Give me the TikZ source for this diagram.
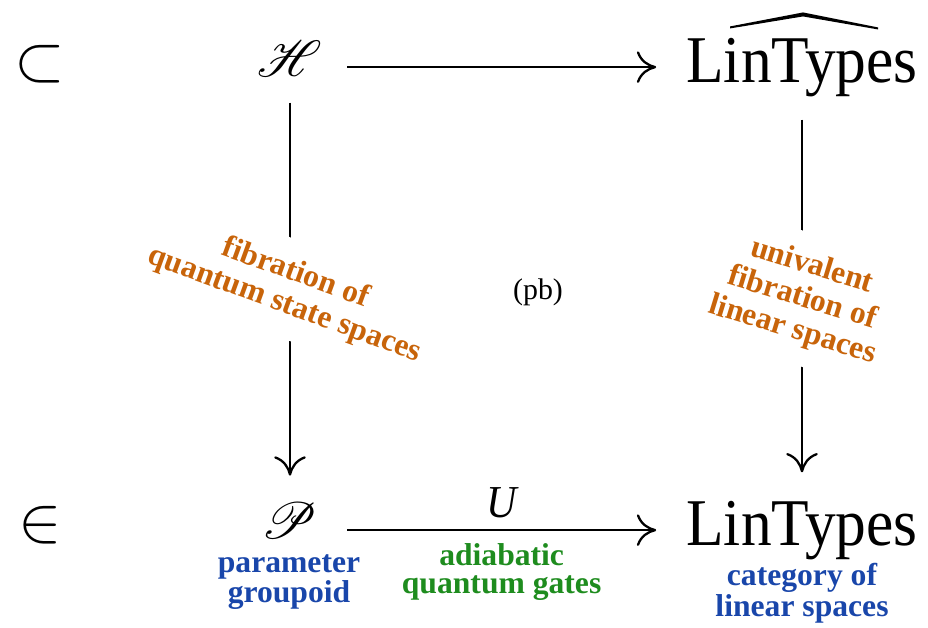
\RequirePackage{fix-cm}
\documentclass[tikz,border=0pt]{standalone}
\usepackage{amsmath}
\usepackage{mathrsfs}
\DeclareFontFamily{U}{rsfs}{\skewchar\font127 }
\DeclareFontShape{U}{rsfs}{m}{n}{<-6> rsfs5 <6-8> rsfs7 <8-> rsfs10}{}
\usepackage{fontspec}
\setmainfont{Liberation Serif}
\newfontfamily\narrowfont{Liberation Serif}[FakeStretch=0.92]
\usepackage{xcolor}
\usetikzlibrary{arrows.meta,positioning,calc}
\definecolor{fibreOrange}{RGB}{200,100,10}
\definecolor{gateGreen}{RGB}{30,140,30}
\definecolor{spaceBlue}{RGB}{25,70,170}

\begin{document}
\begin{tikzpicture}[x=0.2mm, y=-0.2mm,
    obj/.style={inner sep=0pt, font=\fontsize{37}{40}\selectfont},
    scr/.style={inner sep=0pt, font=\fontsize{29}{32}\selectfont},
    lin/.style={inner sep=0pt, font=\fontsize{38}{40}\selectfont\narrowfont},
    arr/.style={line width=1.3pt, -{Computer Modern Rightarrow[length=11pt,width=18pt]}},
    fibre/.style={fill=white, inner sep=10pt, align=center, text=fibreOrange, font=\fontsize{18}{19}\selectfont\bfseries},
    gloss/.style={align=center, inner sep=2pt, font=\fontsize{18}{16}\selectfont\bfseries}]
    \useasboundingbox (0,0) rectangle (928,627);

    % Membership on the left
    \node[obj] (sub) at (40,64) {$\subset$};
    \node[obj] (elem) at (40,525) {$\in$};

    % Corners of the square
    \node[scr, anchor=base] (H) at (290,76) {$\mathscr{H}$};
    \node[scr, anchor=base] (P) at (289,538) {$\mathscr{P}$};
    \node[lin, anchor=base] (LinHat) at (802,82) {LinTypes};
    \node[lin, anchor=base] (Lin) at (802,545) {LinTypes};

    % Wide hat over the top right corner
    \begin{scope}[shift={(LinHat.north)}]
        \fill (-72,-11) -- (1,-25) -- (76,-10) -- (76,-8) -- (1,-21) -- (-72,-9) -- cycle;
    \end{scope}

    % Horizontal maps
    \draw[arr, shorten <=14pt, shorten >=17pt] (LinHat.west -| H.east) -- (LinHat.west);
    \draw[arr, shorten <=17pt, shorten >=17pt] (Lin.west -| P.east) -- (Lin.west)
        node[midway, above=3pt, font=\fontsize{26}{28}\selectfont\narrowfont\itshape] (U) {U}
        node[midway, below=5pt, gloss, text=gateGreen] (gates) {adiabatic\\quantum gates};

    % Vertical fibrations
    \draw[arr, shorten <=15pt, shorten >=15pt] (H.south) -- (H.south |- P.north)
        node[midway, fibre, rotate=-20] (fibH) {fibration of\\quantum state spaces};
    \draw[arr, shorten <=13pt, shorten >=16pt] (LinHat.south) -- (Lin.north)
        node[midway, fibre, rotate=-17] (fibLin) {univalent\\fibration of\\linear spaces};

    % Pullback mark
    \node[font=\fontsize{17}{17}\selectfont] (pb) at (538,292) {(pb)};

    % Names under the bottom corners
    \node[gloss, text=spaceBlue, below=7pt of P] (Pname) {parameter\\groupoid};
    \node[gloss, text=spaceBlue, below=0pt of Lin] (Linname) {category of\\linear spaces};
\end{tikzpicture}
\end{document}
